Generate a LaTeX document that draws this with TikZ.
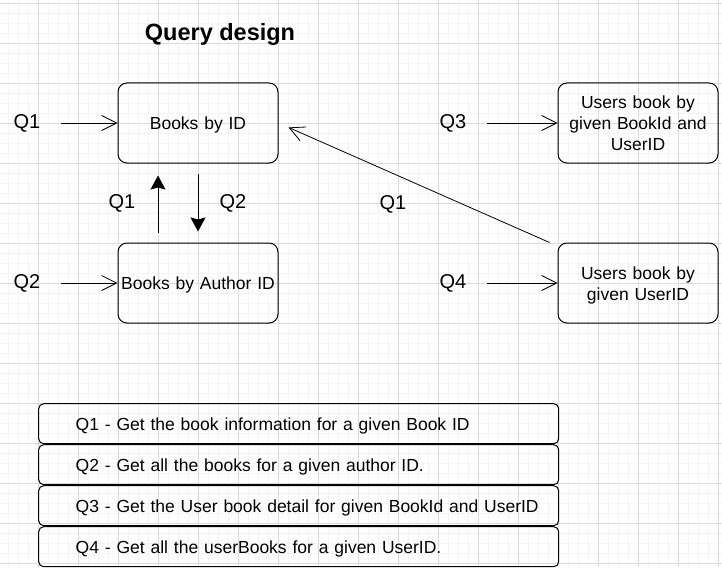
\documentclass[tikz,border=0pt]{standalone}
\usepackage{fontspec}
\setmainfont{Liberation Sans}
\usetikzlibrary{arrows.meta,positioning}

\begin{document}
\begin{tikzpicture}[x=1pt,y=-1pt,
  gridminor/.style={gray!9,line width=0.5pt},
  gridmajor/.style={gray!28,line width=0.7pt},
  tbl/.style={draw,line width=1pt,rounded corners=9pt,text width=160pt,inner xsep=0pt,inner ysep=2pt,minimum height=80pt,align=center,font=\fontsize{17.5}{21}\selectfont},
  onerow/.style={tbl,text depth=0pt},
  qlabel/.style={font=\fontsize{20}{24}\selectfont},
  barbarrow/.style={line width=0.8pt,-{Straight Barb[length=15pt,width=15pt]}},
  inarrow/.style={barbarrow,shorten <=17pt},
  fillarrow/.style={line width=1pt,-{Stealth[length=14pt,width=15pt,inset=2pt]}},
  legendrow/.style={draw,line width=1pt,rounded corners=5pt,outer sep=0pt,inner xsep=0pt,text width=520pt,minimum height=40pt,text depth=0pt,align=left,font=\fontsize{17.5}{21}\selectfont,execute at begin node=\hspace*{37pt}}]
\useasboundingbox (0,0) rectangle (722,567);
\foreach \gx in {8,18,...,718} \draw[gridminor] (\gx,0) -- (\gx,567);
\foreach \gy in {3,13,...,563} \draw[gridminor] (0,\gy) -- (722,\gy);
\foreach \gx in {38,78,...,718} \draw[gridmajor] (\gx,0) -- (\gx,567);
\foreach \gy in {3,43,...,563} \draw[gridmajor] (0,\gy) -- (722,\gy);

\node[font=\bfseries\fontsize{23.5}{28}\selectfont,anchor=base] (title) at (220,41) {Query design};

\node[onerow] (byid) at (198,123) {Books by ID};
\node[onerow] (byauthor) at (198,283) {Books by Author ID};
\node[tbl] (bybookuser) at (638,123) {Users book by\\given BookId and\\UserID};
\node[tbl,text depth=19pt] (byuser) at (638,283) {Users book by\\given UserID};

\node[qlabel] (lq1) at (27,123) {Q1};
\node[qlabel] (lq2) at (27,283) {Q2};
\node[qlabel] (upq1) at (122,203) {Q1};
\node[qlabel] (downq2) at (233,203) {Q2};
\node[qlabel] (diagq1) at (393,204) {Q1};
\node[qlabel] (lq3) at (453,123) {Q3};
\node[qlabel] (lq4) at (453,283) {Q4};

\draw[inarrow] (lq1) -- (byid);
\draw[inarrow] (lq2) -- (byauthor);
\draw[inarrow] (lq3) -- (bybookuser);
\draw[inarrow] (lq4) -- (byuser);
\draw[fillarrow,shorten <=10pt,shorten >=12pt] ([xshift=-40pt]byauthor.north) -- ([xshift=-40pt]byid.south);
\draw[fillarrow,shorten <=10pt,shorten >=11pt] (byid) -- (byauthor);
\draw[barbarrow,shorten >=11pt] ([xshift=-8pt]byuser.north west) -- (byid.east);

\node [matrix,anchor=north west,inner sep=0pt,row sep=0pt,nodes={legendrow}] (legend) at (38,403)
    {
\node (d1) {Q1 - Get the book information for a given Book ID}; \\
\node (d2) {Q2 - Get all the books for a given author ID.}; \\
\node (d3) {Q3 - Get the User book detail for given BookId and UserID}; \\
\node (d4) {Q4 - Get all the userBooks for a given UserID.}; \\
};
\end{tikzpicture}
\end{document}
